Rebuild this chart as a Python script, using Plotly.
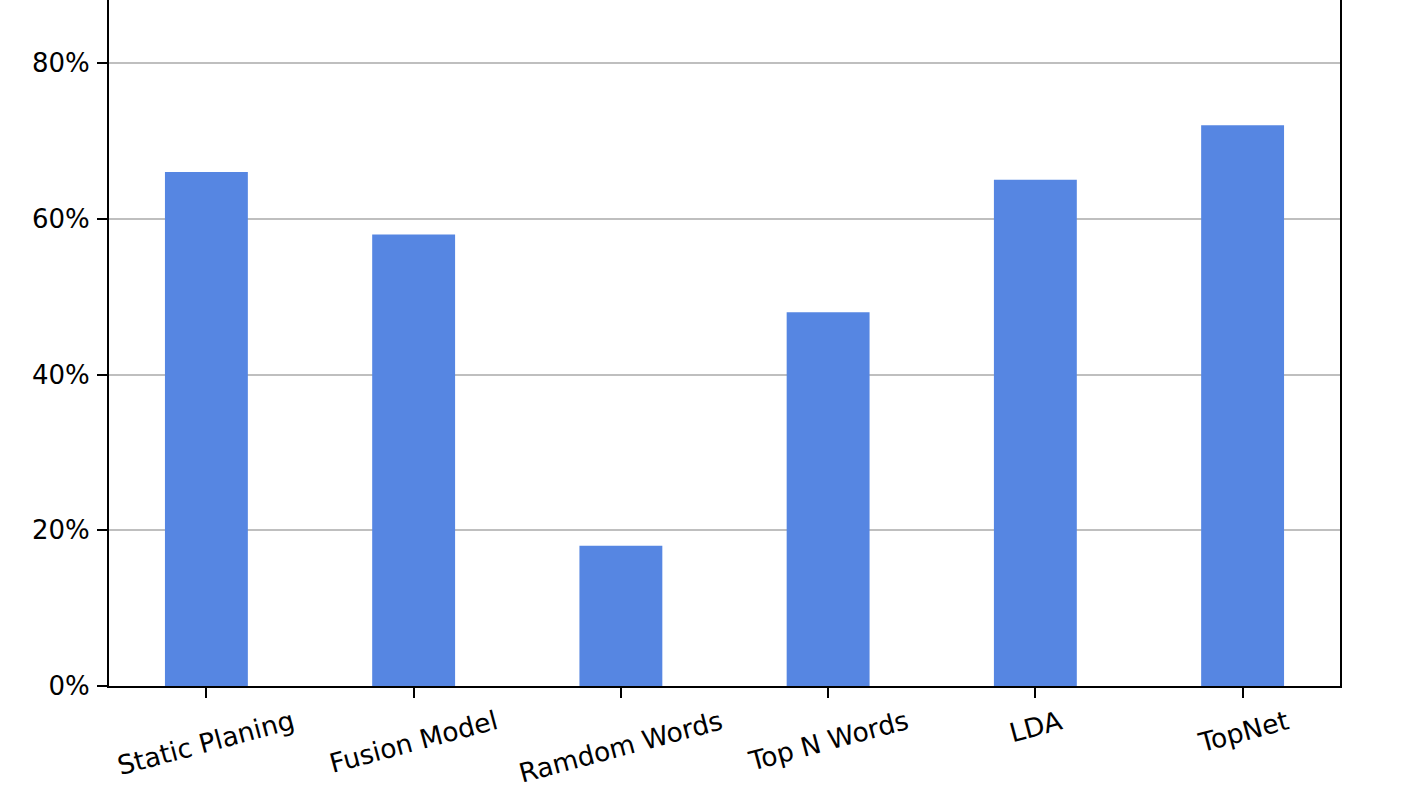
import plotly.graph_objects as go

categories = ["Static Planing", "Fusion Model", "Ramdom Words", "Top N Words", "LDA", "TopNet"]
values = [0.66, 0.58, 0.18, 0.48, 0.65, 0.72]
y_ticks = [0, 0.2, 0.4, 0.6, 0.8]

x_pos = list(range(len(categories)))
FONT = "DejaVu Sans"

fig = go.Figure()
fig.add_trace(go.Bar(
    x=x_pos, y=values, width=0.4,
    marker=dict(color="#5686E2", line=dict(width=0)),
))

for xp, label in zip(x_pos, categories):
    fig.add_annotation(
        x=xp, xref="x", y=0, yref="paper",
        text=label, showarrow=False, textangle=-15,
        xanchor="center", yanchor="top", yshift=-17, borderpad=0,
        font=dict(size=26.5, family=FONT, color="black"),
    )

fig.update_layout(
    width=1424, height=788,
    margin=dict(l=109, r=84, t=0, b=102),
    paper_bgcolor="white", plot_bgcolor="white",
    showlegend=False,
    font=dict(family=FONT, color="black"),
)
fig.update_xaxes(
    range=[-0.47, 5.47],
    tickmode="array", tickvals=x_pos, ticktext=[""] * len(x_pos),
    ticks="outside", ticklen=10, tickwidth=2, tickcolor="black",
    showline=True, linecolor="black", linewidth=2,
    showgrid=False, zeroline=False,
)
fig.update_yaxes(
    range=[0, 0.881],
    tickmode="array", tickvals=y_ticks, tickformat=".0%",
    ticks="outside", ticklen=10, tickwidth=2, tickcolor="black",
    ticklabelstandoff=2,
    showline=True, linecolor="black", linewidth=2, mirror=True,
    showgrid=True, gridcolor="#bfbfbf", gridwidth=1.5,
    zeroline=False,
    tickfont=dict(size=26, family=FONT),
)

fig.write_html("out.html", config={"displayModeBar": False},
               post_script="document.body.style.margin='0';")
